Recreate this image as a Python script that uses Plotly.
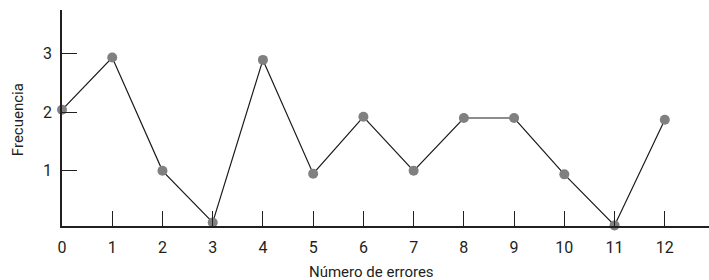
import plotly.graph_objects as go

errores = [0, 1, 2, 3, 4, 5, 6, 7, 8, 9, 10, 11, 12]
frecuencia = [2.04, 2.93, 1.0, 0.12, 2.89, 0.95, 1.92, 1.0, 1.9, 1.9, 0.94, 0.07, 1.87]
x_ticks = list(range(0, 13))
y_ticks = [1, 2, 3]
x_title = "Número de errores"
y_title = "Frecuencia"

FONT = "Roboto, Liberation Sans, sans-serif"
INK = "#231f20"

fig = go.Figure()
fig.add_trace(go.Scatter(
    x=errores, y=frecuencia, mode="lines+markers",
    line=dict(color="#1a1a1a", width=1.2),
    marker=dict(color="#808083", size=10, line=dict(width=0)),
    cliponaxis=False, showlegend=False, hoverinfo="skip",
))

fig.update_layout(
    width=709, height=280,
    margin=dict(l=62, r=0, t=10, b=54),
    paper_bgcolor="white", plot_bgcolor="white",
    font=dict(family=FONT, size=16, color=INK),
    xaxis=dict(
        range=[0, 12.88], tickvals=x_ticks, ticktext=[str(v) for v in x_ticks],
        ticks="inside", ticklen=15, tickwidth=1.3, tickcolor=INK,
        showline=True, linecolor=INK, linewidth=1.5,
        showgrid=False, zeroline=False, fixedrange=True,
        ticklabelstandoff=6,
    ),
    yaxis=dict(
        range=[0.06, 3.74], tickvals=y_ticks, ticktext=[str(v) for v in y_ticks],
        ticks="inside", ticklen=15, tickwidth=1.3, tickcolor=INK,
        showline=True, linecolor=INK, linewidth=1.5,
        showgrid=False, zeroline=False, fixedrange=True,
        ticklabelstandoff=5,
    ),
    annotations=[
        dict(text=x_title, xref="paper", yref="paper", x=0.479, y=-0.215,
             xanchor="center", yanchor="middle", showarrow=False,
             font=dict(family=FONT, size=15, color=INK)),
        dict(text=y_title, xref="paper", yref="paper", x=-0.068, y=0.49,
             xanchor="center", yanchor="middle", showarrow=False, textangle=-90,
             font=dict(family=FONT, size=15, color=INK)),
    ],
)

fig.write_html("out.html", config={"displayModeBar": False},
               post_script="document.body.style.margin='0';")
